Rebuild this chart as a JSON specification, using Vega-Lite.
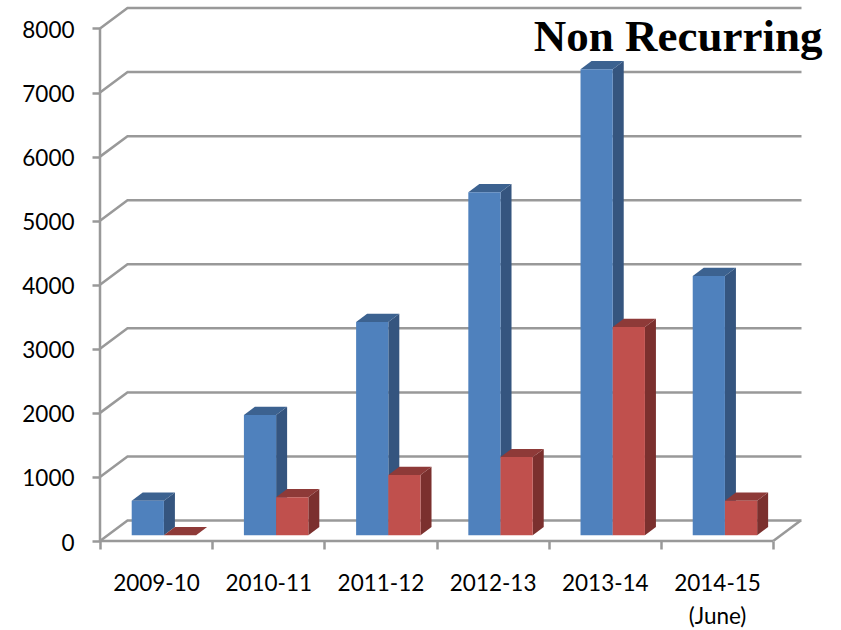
{
"$schema":"https://vega.github.io/schema/vega-lite/v6.json",
"width":701.5,"height":533,
"autosize":{"type":"none"},
"padding":{"left":100,"top":8,"right":39.5,"bottom":89},
"background":"white",
"view":{"stroke":null},
"title":{"text":"Non Recurring","anchor":"end","frame":"group","font":"Liberation Serif","fontWeight":"bold","fontSize":45,"color":"#000000","dx":21,"dy":102,"offset":0,"baseline":"bottom"},
"datasets":{
"bars":[
{"year":"2009-10","index":0,"series":"A","value":540},
{"year":"2010-11","index":1,"series":"A","value":1877},
{"year":"2011-12","index":2,"series":"A","value":3328},
{"year":"2012-13","index":3,"series":"A","value":5355},
{"year":"2013-14","index":4,"series":"A","value":7275},
{"year":"2014-15","index":5,"series":"A","value":4048},
{"year":"2009-10","index":0,"series":"B","value":0},
{"year":"2010-11","index":1,"series":"B","value":593},
{"year":"2011-12","index":2,"series":"B","value":940},
{"year":"2012-13","index":3,"series":"B","value":1220},
{"year":"2013-14","index":4,"series":"B","value":3250},
{"year":"2014-15","index":5,"series":"B","value":540}
],
"levels":[{"level":0},{"level":1000},{"level":2000},{"level":3000},{"level":4000},{"level":5000},{"level":6000},{"level":7000},{"level":8000}]
},
"layer":[
{"data":{"name":"levels"},
"transform":[{"calculate":"[0,1,2]","as":"t"},{"flatten":["t"]},{"calculate":"datum.t==0?0:(datum.t==1?0.245:6.252)","as":"px"},{"calculate":"datum.t==0?datum.level:datum.level+320","as":"py"}],
"mark":{"type":"line","color":"#999999","strokeWidth":2.5,"strokeJoin":"miter"},
"encoding":{
"x":{"field":"px","type":"quantitative","sort":null,"scale":{"domain":[0,6.252],"nice":false,"zero":false},
"axis":{"values":[0,1,2,3,4,5,6],"domain":false,"grid":false,"title":null,"tickColor":"#999999","tickWidth":2.5,"tickSize":8,"labelExpr":"[['2009-10'],['2010-11'],['2011-12'],['2012-13'],['2013-14'],['2014-15','(June)'],['']][datum.value]","labelOffset":56,"labelFont":"Lato","labelFontSize":22.5,"labelColor":"#000000","labelPadding":23,"labelOverlap":false,"labelBound":false,"labelFlush":false,"labelLineHeight":33,"labelBaseline":"top","labelAngle":0,"labelAlign":"center"}},
"y":{"field":"py","type":"quantitative","scale":{"domain":[0,8320],"nice":false,"zero":false},
"axis":{"values":[0,1000,2000,3000,4000,5000,6000,7000,8000],"format":"d","domain":false,"grid":false,"title":null,"tickColor":"#999999","tickWidth":2.5,"tickSize":8,"labelFont":"Lato","labelFontSize":22.5,"labelColor":"#000000","labelPadding":18,"labelOffset":2}},
"detail":{"field":"level"}}},
{"data":{"values":[{"edge":"floor"}]},
"transform":[{"calculate":"[0,1]","as":"t"},{"flatten":["t"]},{"calculate":"6+datum.t*0.245","as":"px"},{"calculate":"datum.t*320","as":"py"}],
"mark":{"type":"line","color":"#999999","strokeWidth":2.5},
"encoding":{"x":{"field":"px","type":"quantitative","scale":{"domain":[0,6.252],"nice":false,"zero":false}},"y":{"field":"py","type":"quantitative","scale":{"domain":[0,8320],"nice":false,"zero":false}}}},
{"data":{"values":[{"a":0,"b":6}]},
"mark":{"type":"rule","color":"#999999","strokeWidth":2.5},
"encoding":{"x":{"field":"a","type":"quantitative","scale":{"domain":[0,6.252],"nice":false,"zero":false}},"x2":{"field":"b"},"y":{"datum":0,"type":"quantitative","scale":{"domain":[0,8320],"nice":false,"zero":false}}}},
{"data":{"values":[{"a":0,"b":8000}]},
"mark":{"type":"rule","color":"#999999","strokeWidth":2.5},
"encoding":{"y":{"field":"a","type":"quantitative","scale":{"domain":[0,8320],"nice":false,"zero":false}},"y2":{"field":"b"},"x":{"datum":0,"type":"quantitative","scale":{"domain":[0,6.252],"nice":false,"zero":false}}}},

{"data":{"name":"bars"},
"transform":[{"filter":"datum.series=='A'"},{"calculate":"datum.index+0.2826","as":"L"},{"calculate":"[0,1]","as":"t"},{"flatten":["t"]},{"calculate":"datum.L+0.287+datum.t*0.098","as":"px"},{"calculate":"90+datum.t*128","as":"lo"},{"calculate":"datum.value+90+datum.t*128","as":"hi"}],
"mark":{"type":"area","color":"#35557F","opacity":1},
"encoding":{"x":{"field":"px","type":"quantitative","scale":{"domain":[0,6.252],"nice":false,"zero":false}},"y":{"field":"lo","type":"quantitative","scale":{"domain":[0,8320],"nice":false,"zero":false}},"y2":{"field":"hi"},"detail":{"field":"year"}}},
{"data":{"name":"bars"},
"transform":[{"filter":"datum.series=='A'"},{"calculate":"datum.index+0.2826","as":"L"},{"calculate":"[0,1]","as":"t"},{"flatten":["t"]},{"calculate":"datum.L+datum.t*0.098","as":"x1"},{"calculate":"datum.L+0.287+datum.t*0.098","as":"x2"},{"calculate":"datum.value+90+datum.t*128","as":"py"}],
"mark":{"type":"area","orient":"horizontal","color":"#3C6290","opacity":1},
"encoding":{"y":{"field":"py","type":"quantitative","scale":{"domain":[0,8320],"nice":false,"zero":false}},"x":{"field":"x1","type":"quantitative","scale":{"domain":[0,6.252],"nice":false,"zero":false}},"x2":{"field":"x2"},"detail":{"field":"year"}}},
{"data":{"name":"bars"},
"transform":[{"filter":"datum.series=='A'"},{"calculate":"datum.index+0.2826","as":"L"},{"calculate":"datum.L+0.287","as":"R"},{"calculate":"datum.value+90","as":"top"},{"calculate":"90","as":"base"}],
"mark":{"type":"rect","color":"#4F81BD"},
"encoding":{"x":{"field":"L","type":"quantitative","scale":{"domain":[0,6.252],"nice":false,"zero":false}},"x2":{"field":"R"},"y":{"field":"base","type":"quantitative","scale":{"domain":[0,8320],"nice":false,"zero":false}},"y2":{"field":"top"}}},

{"data":{"name":"bars"},
"transform":[{"filter":"datum.series=='B'"},{"calculate":"datum.index+0.5696","as":"L"},{"calculate":"[0,1]","as":"t"},{"flatten":["t"]},{"calculate":"datum.L+0.287+datum.t*0.098","as":"px"},{"calculate":"90+datum.t*128","as":"lo"},{"calculate":"datum.value+90+datum.t*128","as":"hi"}],
"mark":{"type":"area","color":"#7B302E","opacity":1},
"encoding":{"x":{"field":"px","type":"quantitative","scale":{"domain":[0,6.252],"nice":false,"zero":false}},"y":{"field":"lo","type":"quantitative","scale":{"domain":[0,8320],"nice":false,"zero":false}},"y2":{"field":"hi"},"detail":{"field":"year"}}},
{"data":{"name":"bars"},
"transform":[{"filter":"datum.series=='B'"},{"calculate":"datum.index+0.5696","as":"L"},{"calculate":"[0,1]","as":"t"},{"flatten":["t"]},{"calculate":"datum.L+datum.t*0.098","as":"x1"},{"calculate":"datum.L+0.287+datum.t*0.098","as":"x2"},{"calculate":"datum.value+90+datum.t*128","as":"py"}],
"mark":{"type":"area","orient":"horizontal","color":"#8E3A38","opacity":1},
"encoding":{"y":{"field":"py","type":"quantitative","scale":{"domain":[0,8320],"nice":false,"zero":false}},"x":{"field":"x1","type":"quantitative","scale":{"domain":[0,6.252],"nice":false,"zero":false}},"x2":{"field":"x2"},"detail":{"field":"year"}}},
{"data":{"name":"bars"},
"transform":[{"filter":"datum.series=='B'"},{"calculate":"datum.index+0.5696","as":"L"},{"calculate":"datum.L+0.287","as":"R"},{"calculate":"datum.value+90","as":"top"},{"calculate":"90","as":"base"}],
"mark":{"type":"rect","color":"#C0504D"},
"encoding":{"x":{"field":"L","type":"quantitative","scale":{"domain":[0,6.252],"nice":false,"zero":false}},"x2":{"field":"R"},"y":{"field":"base","type":"quantitative","scale":{"domain":[0,8320],"nice":false,"zero":false}},"y2":{"field":"top"}}}
]
}
